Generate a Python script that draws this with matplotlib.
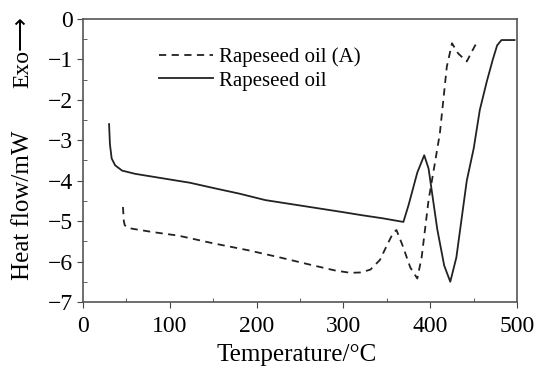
import matplotlib.pyplot as plt
from matplotlib.ticker import MultipleLocator

# Rapeseed oil (solid)
solid_t = [30, 31, 33, 37, 45, 60, 80, 100, 123, 150, 180, 210, 240, 270, 300,
           320, 345, 369, 375, 385, 393, 398, 408, 416, 423, 430, 442, 450,
           457, 465, 472, 477, 482, 497]
solid_q = [-2.6, -3.1, -3.45, -3.62, -3.75, -3.83, -3.9, -3.97, -4.05, -4.18,
           -4.32, -4.48, -4.58, -4.68, -4.78, -4.85, -4.93, -5.02, -4.6, -3.8,
           -3.37, -3.7, -5.2, -6.1, -6.5, -5.9, -4.0, -3.2, -2.25, -1.55,
           -1.0, -0.65, -0.52, -0.52]

# Rapeseed oil (A) (dashed)
dash_t = [46, 47, 48, 52, 60, 80, 110, 150, 190, 227, 260, 290, 308, 320,
          331, 342, 350, 357, 361, 368, 377, 385, 390, 398, 405, 411, 419,
          425, 432, 442, 448, 455]
dash_q = [-4.65, -5.0, -5.1, -5.17, -5.2, -5.27, -5.36, -5.55, -5.72, -5.9,
          -6.07, -6.22, -6.28, -6.27, -6.2, -5.96, -5.6, -5.3, -5.22, -5.6,
          -6.15, -6.42, -5.9, -4.48, -3.6, -2.83, -1.18, -0.6, -0.85, -1.05,
          -0.8, -0.52]

y_ticks = [-7, -6, -5, -4, -3, -2, -1, 0]
y_labels = ["\u22127", "\u22126", "\u22125", "\u22124", "\u22123",
            "\u22122", "\u22121", "0"]

plt.rcParams["font.family"] = ["Liberation Serif", "DejaVu Sans"]

fig = plt.figure(figsize=(5.37, 3.66), dpi=100)
ax = fig.add_axes([0.1546, 0.175, 0.8084, 0.773])

ax.plot(dash_t, dash_q, color="#222222", linewidth=1.3, linestyle=(0, (4, 3)),
        label="Rapeseed oil (A)")
ax.plot(solid_t, solid_q, color="#222222", linewidth=1.3, label="Rapeseed oil")

ax.set_xlim(0, 500)
ax.set_ylim(-7, 0)
ax.xaxis.set_major_locator(MultipleLocator(100))
ax.xaxis.set_minor_locator(MultipleLocator(50))
ax.set_yticks(y_ticks)
ax.set_yticklabels(y_labels)
ax.yaxis.set_minor_locator(MultipleLocator(0.5))
ax.tick_params(which="major", direction="out", length=4, labelsize=17,
               color="#444444", pad=3)
ax.tick_params(axis="x", which="major", pad=6)
ax.tick_params(which="minor", direction="in", length=3, color="#444444")
for s in ax.spines.values():
    s.set_color("#555555")
    s.set_linewidth(1.2)

fig.text(0.552, 0.03, "Temperature/\u00b0C", fontsize=18,
         ha="center", va="center")
fig.text(0.042, 0.44, "Heat flow/mW", rotation=90, fontsize=18,
         ha="center", va="center")
fig.text(0.042, 0.858, "Exo\u27f6", rotation=90, fontsize=17,
         ha="center", va="center")

ax.legend(loc="upper left", bbox_to_anchor=(0.155, 0.93), frameon=False,
          fontsize=15, handlelength=2.6, handletextpad=0.3,
          labelspacing=0.2, borderaxespad=0)

fig.savefig("out.png", dpi=100)
